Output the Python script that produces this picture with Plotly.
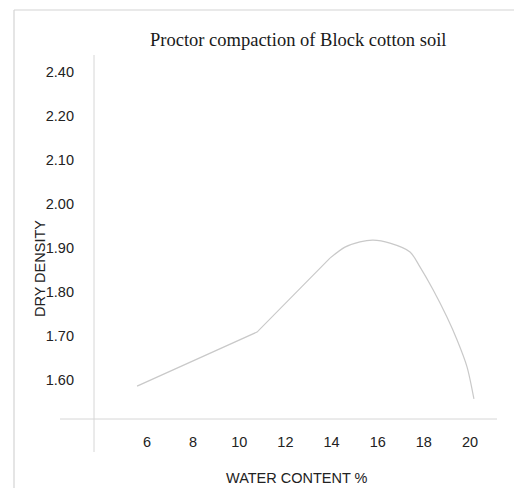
import plotly.graph_objects as go

# Data
water_content = [5.57, 10.77, 13.93, 14.58, 15.23, 15.80, 16.53, 17.40,
                 17.83, 18.40, 19.00, 19.44, 19.87, 20.17]
dry_density = [1.586, 1.709, 1.877, 1.902, 1.914, 1.918, 1.911, 1.891,
               1.857, 1.805, 1.743, 1.691, 1.630, 1.557]
# index where the straight part ends and the smooth curve begins
curve_start = 2

x_tick_vals = [6, 8, 10, 12, 14, 16, 18, 20]
x_tick_text = ["6", "8", "10", "12", "14", "16", "18", "20"]
y_tick_vals = [1.6, 1.7, 1.8, 1.9, 2.0, 2.1, 2.2, 2.3]
y_tick_text = ["1.60", "1.70", "1.80", "1.90", "2.00", "2.10", "2.20", "2.40"]

title_text = "Proctor compaction of Block cotton soil"
x_title = "WATER CONTENT %"
y_title = "DRY DENSITY"

W, H = 514, 488
L, R, T, B = 94, 17, 55, 69
pw, ph = W - L - R, H - T - B

def px(x):
    return (x - L) / pw

def py(y):
    return (H - B - y) / ph

sans = "Liberation Sans, Arial, sans-serif"
serif = "Liberation Serif, Times New Roman, serif"
txt = "#222222"
axis_col = "#d6d6d6"
line_col = "#c9c9c9"

fig = go.Figure()
fig.add_trace(go.Scatter(
    x=water_content[:curve_start + 1], y=dry_density[:curve_start + 1], mode="lines",
    line=dict(color=line_col, width=1.2, shape="linear"),
    hoverinfo="skip", showlegend=False,
))
fig.add_trace(go.Scatter(
    x=water_content[curve_start:], y=dry_density[curve_start:], mode="lines",
    line=dict(color=line_col, width=1.2, shape="spline", smoothing=0.8),
    hoverinfo="skip", showlegend=False,
))

fig.update_layout(
    width=W, height=H,
    margin=dict(l=L, r=R, t=T, b=B),
    paper_bgcolor="white", plot_bgcolor="white",
    showlegend=False,
    xaxis=dict(range=[3.703, 21.17], tickvals=x_tick_vals, ticktext=x_tick_text,
               showgrid=False, zeroline=False, showline=False, ticks="",
               tickfont=dict(family=sans, size=14.5, color=txt),
               ticklabelstandoff=12, fixedrange=True),
    yaxis=dict(range=[1.5114, 2.3386], tickvals=y_tick_vals, ticktext=y_tick_text,
               showgrid=False, zeroline=False, showline=False, ticks="",
               tickfont=dict(family=sans, size=14.5, color=txt),
               ticklabelstandoff=19, fixedrange=True),
    shapes=[
        # outer frame (top and left)
        dict(type="line", xref="paper", yref="paper", x0=px(14), x1=px(514),
             y0=py(10), y1=py(10), line=dict(color="#d4d4d4", width=1.2)),
        dict(type="line", xref="paper", yref="paper", x0=px(14), x1=px(14),
             y0=py(10), y1=py(488), line=dict(color="#d4d4d4", width=1.2)),
        # axes
        dict(type="line", xref="paper", yref="paper", x0=0, x1=0,
             y0=1, y1=py(452), line=dict(color=axis_col, width=1)),
        dict(type="line", xref="paper", yref="paper", x0=px(60), x1=1,
             y0=0, y1=0, line=dict(color=axis_col, width=1)),
    ],
    annotations=[
        dict(text=title_text, xref="paper", yref="paper", x=px(298), y=py(40),
             xanchor="center", yanchor="middle", showarrow=False,
             font=dict(family=serif, size=18.5, color="#1a1a1a")),
        dict(text=x_title, xref="paper", yref="paper", x=px(297), y=py(478),
             xanchor="center", yanchor="middle", showarrow=False,
             font=dict(family=sans, size=14.5, color=txt)),
        dict(text=y_title, xref="paper", yref="paper", x=px(40), y=py(269),
             xanchor="center", yanchor="middle", showarrow=False, textangle=-90,
             font=dict(family=sans, size=14.5, color=txt)),
    ],
)

fig.write_html("out.html", config={"displayModeBar": False})
